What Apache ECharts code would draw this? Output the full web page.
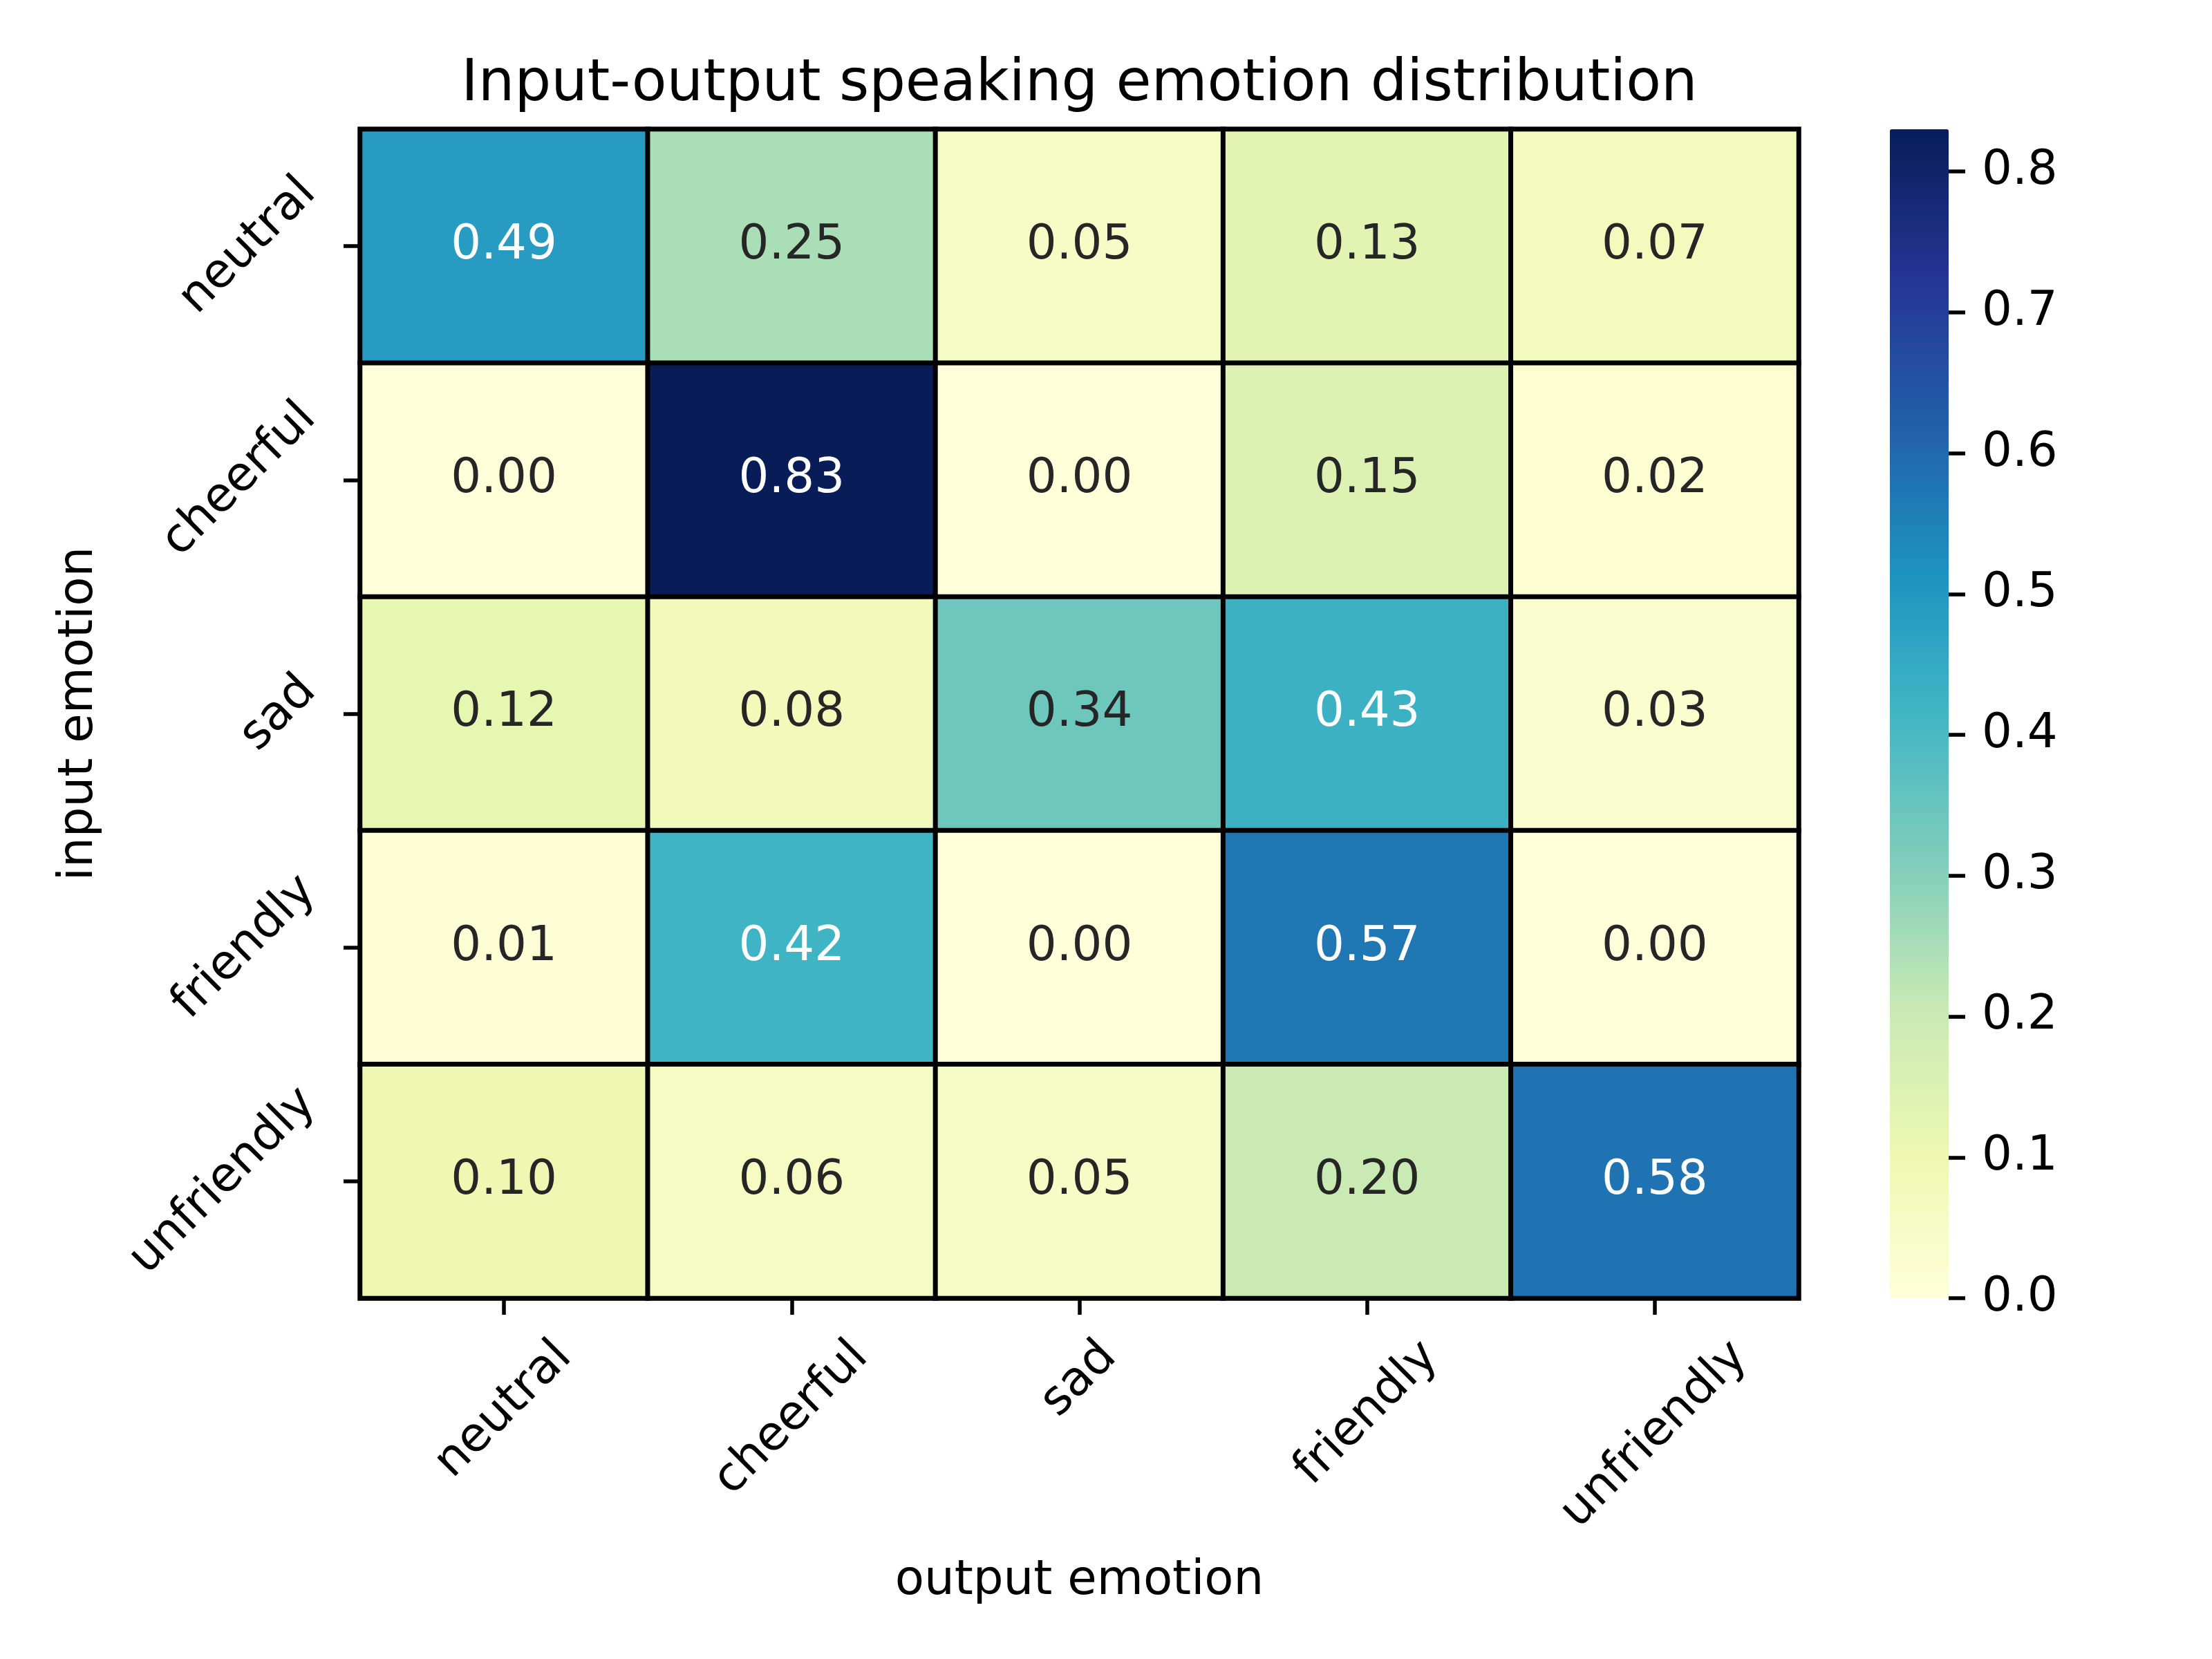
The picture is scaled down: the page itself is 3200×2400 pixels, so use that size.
<!DOCTYPE html>
<html><head><meta charset="utf-8">
<script src="https://cdn.jsdelivr.net/npm/echarts@6/dist/echarts.min.js"></script>
<style>html,body{margin:0;padding:0;background:#fff}#c{width:3200px;height:2400px}</style>
</head><body><div id="c"></div>
<script>
// ---- data ----
const inputEmotions = ['neutral', 'cheerful', 'sad', 'friendly', 'unfriendly'];
const outputEmotions = ['neutral', 'cheerful', 'sad', 'friendly', 'unfriendly'];
const rowNeutral = [0.49, 0.25, 0.05, 0.13, 0.07];
const rowCheerful = [0.00, 0.83, 0.00, 0.15, 0.02];
const rowSad = [0.12, 0.08, 0.34, 0.43, 0.03];
const rowFriendly = [0.01, 0.42, 0.00, 0.57, 0.00];
const rowUnfriendly = [0.10, 0.06, 0.05, 0.20, 0.58];
const colorbarTicks = [0.0, 0.1, 0.2, 0.3, 0.4, 0.5, 0.6, 0.7, 0.8];
const colorMin = 0.0;
const colorMax = 0.83;

// ---- styling ----
const FONT = 'DejaVu Sans';
const FS = 69;
const LH = 80;
const TH = 75; // matplotlib text box height
const YlGnBu = ['#ffffd9', '#edf8b1', '#c7e9b4', '#7fcdbb', '#41b6c4', '#1d91c0', '#225ea8', '#253494', '#081d58'];

const rows = [rowNeutral, rowCheerful, rowSad, rowFriendly, rowUnfriendly];
const data = [];
rows.forEach((row, yi) => row.forEach((v, xi) => {
  data.push({ value: [xi, yi, v], label: { color: v > 0.4 ? '#ffffff' : '#262626' } });
}));

const ctx = document.createElement('canvas').getContext('2d');
ctx.font = FS + 'px "' + FONT + '"';
const tw = s => ctx.measureText(s).width;

const G = { left: 521, top: 187, width: 2081, height: 1691 };
const CB = { left: 2734, top: 187, width: 85, height: 1691 };

const labelBase = { fontSize: FS, color: '#000', fontFamily: FONT, align: 'center', lineHeight: LH };
// rotated 45° labels whose bounding box is centred on the tick (matplotlib style)
const xLabelStyle = s => {
  const L = tw(s);
  return Object.assign({}, labelBase, { verticalAlign: 'top', padding: [Math.max(0, (L + TH) / 4 - LH / 2), (L + TH) / 2, 0, 0] });
};
const yLabelStyle = s => {
  const L = tw(s);
  return Object.assign({}, labelBase, { verticalAlign: 'bottom', padding: [0, (L + TH) / 2, Math.max(0, (L + TH) / 4 - LH / 2), 0] });
};

const chart = echarts.init(document.getElementById('c'), null, { renderer: 'canvas' });
chart.setOption({
  animation: false,
  backgroundColor: '#ffffff',
  textStyle: { fontFamily: FONT },
  title: {
    text: 'Input-output speaking emotion distribution',
    left: G.left + G.width / 2, top: 82, textAlign: 'center', padding: 0,
    textStyle: { fontFamily: FONT, fontSize: 83, fontWeight: 'normal', color: '#000' }
  },
  grid: [
    { left: G.left, top: G.top, width: G.width, height: G.height, containLabel: false, outerBoundsMode: 'none' },
    { left: CB.left, top: CB.top, width: CB.width, height: CB.height, containLabel: false, outerBoundsMode: 'none' }
  ],
  xAxis: [
    {
      type: 'category', gridIndex: 0, position: 'bottom',
      data: outputEmotions.map(s => ({ value: s, textStyle: xLabelStyle(s) })),
      axisLine: { show: false },
      axisTick: { show: true, alignWithLabel: true, length: 24, lineStyle: { color: '#000', width: 5.5 } },
      axisLabel: Object.assign({ rotate: 45, margin: 48, interval: 0 }, labelBase),
      splitLine: { show: false },
      name: 'output emotion', nameLocation: 'middle', nameGap: 410,
      nameTextStyle: { fontSize: FS, color: '#000', fontFamily: FONT, verticalAlign: 'middle' }
    },
    { type: 'category', gridIndex: 1, show: false, data: [''],
      axisLine: { show: false }, axisTick: { show: false }, axisLabel: { show: false }, splitLine: { show: false } }
  ],
  yAxis: [
    {
      type: 'category', gridIndex: 0, inverse: true,
      data: inputEmotions.map(s => ({ value: s, textStyle: yLabelStyle(s) })),
      axisLine: { show: false },
      axisTick: { show: true, alignWithLabel: true, length: 24, lineStyle: { color: '#000', width: 5.5 } },
      axisLabel: Object.assign({ rotate: 45, margin: 48, interval: 0 }, labelBase),
      splitLine: { show: false },
      name: 'input emotion', nameLocation: 'middle', nameGap: 406, nameRotate: 90,
      nameTextStyle: { fontSize: FS, color: '#000', fontFamily: FONT, verticalAlign: 'middle' }
    },
    {
      type: 'value', gridIndex: 1, position: 'right', min: colorMin, max: colorMax,
      axisLine: { show: false },
      axisTick: { show: true, length: 24, lineStyle: { color: '#000', width: 5.5 }, customValues: colorbarTicks },
      axisLabel: { margin: 48, fontSize: FS, color: '#000', fontFamily: FONT, customValues: colorbarTicks,
        formatter: v => Number(v).toFixed(1) },
      splitLine: { show: false }
    }
  ],
  visualMap: {
    type: 'continuous', min: colorMin, max: colorMax, calculable: false, orient: 'vertical',
    left: CB.left, top: CB.top, itemWidth: CB.width, itemHeight: CB.height, padding: 0,
    showLabel: false, hoverLink: false, indicatorSize: 0, indicatorStyle: { opacity: 0 },
    text: null, borderWidth: 0,
    seriesIndex: 0, inRange: { color: YlGnBu }
  },
  series: [{
    type: 'heatmap', xAxisIndex: 0, yAxisIndex: 0, data: data,
    itemStyle: { borderColor: '#000', borderWidth: 7 },
    label: { show: true, fontSize: FS, fontFamily: FONT, formatter: p => p.value[2].toFixed(2) },
    emphasis: { disabled: true }
  }]
});
</script></body></html>
